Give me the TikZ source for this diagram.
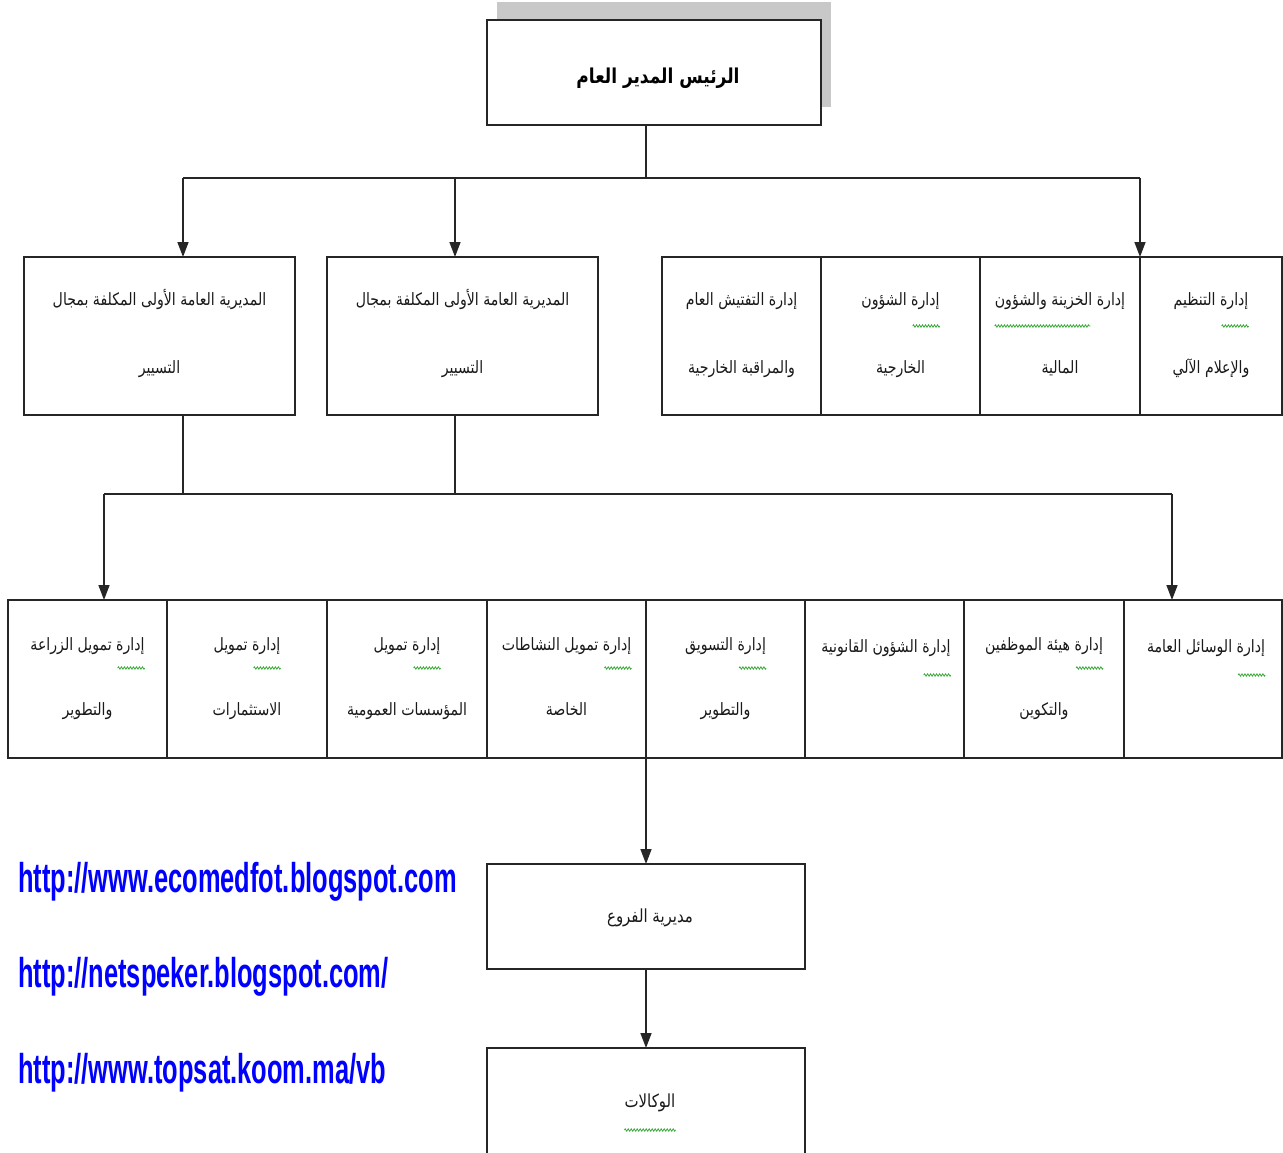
\documentclass[tikz,border=0pt]{standalone}
\usepackage{fontspec}
\usetikzlibrary{arrows.meta,decorations.pathmorphing}
\newfontfamily\arabicfont[Script=Arabic,FakeStretch=0.83]{DejaVu Sans}
\newfontfamily\urlfont[FakeStretch=0.61]{Liberation Sans}
\TeXXeTstate=1
\definecolor{shadowgray}{RGB}{200,200,200}
\definecolor{squiggreen}{RGB}{60,170,60}
\definecolor{urlblue}{RGB}{0,0,255}
\tikzset{
  box/.style={draw=black!85, line width=1.6pt, fill=white, inner sep=0pt, outer sep=0pt},
  line/.style={draw=black!85, line width=1.5pt},
  arr/.style={line, -{Triangle[length=15pt,width=11pt]}},
  ar/.style={font=\arabicfont\fontsize{17}{20}\selectfont, inner sep=0pt, anchor=base, text=black!90},
  artitle/.style={font=\arabicfont\bfseries\fontsize{20.5}{24}\selectfont, inner sep=0pt, anchor=base, text=black},
  url/.style={font=\urlfont\bfseries\fontsize{41.7}{45}\selectfont, text=urlblue, inner sep=0pt, anchor=base west},
  squig/.style={draw=squiggreen, line width=0.8pt, decorate, decoration={zigzag, segment length=3pt, amplitude=1.2pt}}
}
\begin{document}
\begin{tikzpicture}[x=1pt,y=-1pt]
\clip (0,0) rectangle (1283,1153);
\fill[white] (0,0) rectangle (1283,1153);

% shadow and top box
\fill[shadowgray] (497,2) rectangle (831,107);
\node[box, minimum width=334pt, minimum height=105pt] (top) at (654,72.5) {};
\node[artitle] (ttop) at (658,84) {\beginR الرئيس المدير العام\endR};

% row 2
\node[box, minimum width=271pt, minimum height=158pt] (A) at (159.5,336) {};
\node[box, minimum width=271pt, minimum height=158pt] (B) at (462.5,336) {};
\node[box, minimum width=159pt, minimum height=158pt] (g4) at (741.5,336) {};
\node[box, minimum width=159pt, minimum height=158pt] (g3) at (900.5,336) {};
\node[box, minimum width=160pt, minimum height=158pt] (g2) at (1060,336) {};
\node[box, minimum width=142pt, minimum height=158pt] (g1) at (1211,336) {};

\node[ar] (tA1) at (159.5,305) {\beginR المديرية العامة الأولى المكلفة بمجال\endR};
\node[ar] (tA2) at (159.5,373) {\beginR التسيير\endR};
\node[ar] (tB1) at (462.5,305) {\beginR المديرية العامة الأولى المكلفة بمجال\endR};
\node[ar] (tB2) at (462.5,373) {\beginR التسيير\endR};
\node[ar] (tg41) at (741.5,305) {\beginR إدارة التفتيش العام\endR};
\node[ar] (tg42) at (741.5,373) {\beginR والمراقبة الخارجية\endR};
\node[ar] (tg31) at (900.5,305) {\beginR إدارة الشؤون\endR};
\node[ar] (tg32) at (900.5,373) {\beginR الخارجية\endR};
\node[ar] (tg21) at (1060,305) {\beginR إدارة الخزينة والشؤون\endR};
\node[ar] (tg22) at (1060,373) {\beginR المالية\endR};
\node[ar] (tg11) at (1211,305) {\beginR إدارة التنظيم\endR};
\node[ar] (tg12) at (1211,373) {\beginR والإعلام الآلي\endR};

% row 3
\node[box, minimum width=159pt, minimum height=158pt] (c8) at (87.5,679) {};
\node[box, minimum width=160pt, minimum height=158pt] (c7) at (247,679) {};
\node[box, minimum width=160pt, minimum height=158pt] (c6) at (407,679) {};
\node[box, minimum width=159pt, minimum height=158pt] (c5) at (566.5,679) {};
\node[box, minimum width=159pt, minimum height=158pt] (c4) at (725.5,679) {};
\node[box, minimum width=159pt, minimum height=158pt] (c3) at (884.5,679) {};
\node[box, minimum width=160pt, minimum height=158pt] (c2) at (1044,679) {};
\node[box, minimum width=158pt, minimum height=158pt] (c1) at (1203,679) {};

\node[ar] (tc81) at (87.5,650) {\beginR إدارة تمويل الزراعة\endR};
\node[ar] (tc82) at (87.5,715) {\beginR والتطوير\endR};
\node[ar] (tc71) at (247,650) {\beginR إدارة تمويل\endR};
\node[ar] (tc72) at (247,715) {\beginR الاستثمارات\endR};
\node[ar] (tc61) at (407,650) {\beginR إدارة تمويل\endR};
\node[ar] (tc62) at (407,715) {\beginR المؤسسات العمومية\endR};
\node[ar] (tc51) at (566.5,650) {\beginR إدارة تمويل النشاطات\endR};
\node[ar] (tc52) at (566.5,715) {\beginR الخاصة\endR};
\node[ar] (tc41) at (725.5,650) {\beginR إدارة التسويق\endR};
\node[ar] (tc42) at (725.5,715) {\beginR والتطوير\endR};
\node[ar] (tc31) at (886,652) {\beginR إدارة الشؤون القانونية\endR};
\node[ar] (tc21) at (1044,650) {\beginR إدارة هيئة الموظفين\endR};
\node[ar] (tc22) at (1044,715) {\beginR والتكوين\endR};
\node[ar] (tc11) at (1206,652) {\beginR إدارة الوسائل العامة\endR};

% bottom boxes
\node[box, minimum width=318pt, minimum height=105pt] (branches) at (646,916.5) {};
\node[ar, font=\arabicfont\fontsize{18}{21}\selectfont] (tbr) at (650,922) {\beginR مديرية الفروع\endR};
\node[box, minimum width=318pt, minimum height=120pt] (agencies) at (646,1108) {};
\node[ar, font=\arabicfont\fontsize{18}{21}\selectfont] (tag) at (650,1107) {\beginR الوكالات\endR};

% connectors: top -> row 2
\coordinate (j1) at (646,178);
\coordinate (aA) at (183,257);
\coordinate (aB) at (455,257);
\draw[line] (top.south -| j1) -- (j1);
\draw[line] (aA |- j1) -- (g1.north west |- j1);
\draw[arr] (aA |- j1) -- (aA);
\draw[arr] (aB |- j1) -- (aB);
\draw[arr] (g1.north west |- j1) -- (g1.north west);

% connectors: row 2 -> row 3
\coordinate (j2) at (646,494);
\coordinate (t8) at (104,600);
\coordinate (t1) at (1172,600);
\draw[line] (aA |- A.south) -- (aA |- j2);
\draw[line] (aB |- B.south) -- (aB |- j2);
\draw[line] (t8 |- j2) -- (t1 |- j2);
\draw[arr] (t8 |- j2) -- (t8);
\draw[arr] (t1 |- j2) -- (t1);

% row 3 -> branches -> agencies
\draw[arr] (c4.south west) -- (branches.north);
\draw[arr] (branches.south) -- (agencies.north);

% spell-check squiggles
\draw[squig] ([xshift=-27pt,yshift=-21pt]tg31.base east) -- ([yshift=-21pt]tg31.base east);
\draw[squig] ([yshift=-21pt]tg21.base west) -- ([xshift=-35pt,yshift=-21pt]tg21.base east);
\draw[squig] ([xshift=-27pt,yshift=-21pt]tg11.base east) -- ([yshift=-21pt]tg11.base east);
\draw[squig] ([xshift=-27pt,yshift=-18pt]tc81.base east) -- ([yshift=-18pt]tc81.base east);
\draw[squig] ([xshift=-27pt,yshift=-18pt]tc71.base east) -- ([yshift=-18pt]tc71.base east);
\draw[squig] ([xshift=-27pt,yshift=-18pt]tc61.base east) -- ([yshift=-18pt]tc61.base east);
\draw[squig] ([xshift=-27pt,yshift=-18pt]tc51.base east) -- ([yshift=-18pt]tc51.base east);
\draw[squig] ([xshift=-27pt,yshift=-18pt]tc41.base east) -- ([yshift=-18pt]tc41.base east);
\draw[squig] ([xshift=-27pt,yshift=-23pt]tc31.base east) -- ([yshift=-23pt]tc31.base east);
\draw[squig] ([xshift=-27pt,yshift=-18pt]tc21.base east) -- ([yshift=-18pt]tc21.base east);
\draw[squig] ([xshift=-27pt,yshift=-23pt]tc11.base east) -- ([yshift=-23pt]tc11.base east);
\draw[squig] ([yshift=-23pt]tag.base west) -- ([yshift=-23pt]tag.base east);

% URLs
\node[url] (u1) at (18,892) {http://www.ecomedfot.blogspot.com};
\node[url] (u2) at (18,987) {http://netspeker.blogspot.com/};
\node[url] (u3) at (18,1083) {http://www.topsat.koom.ma/vb};
\end{tikzpicture}
\end{document}
